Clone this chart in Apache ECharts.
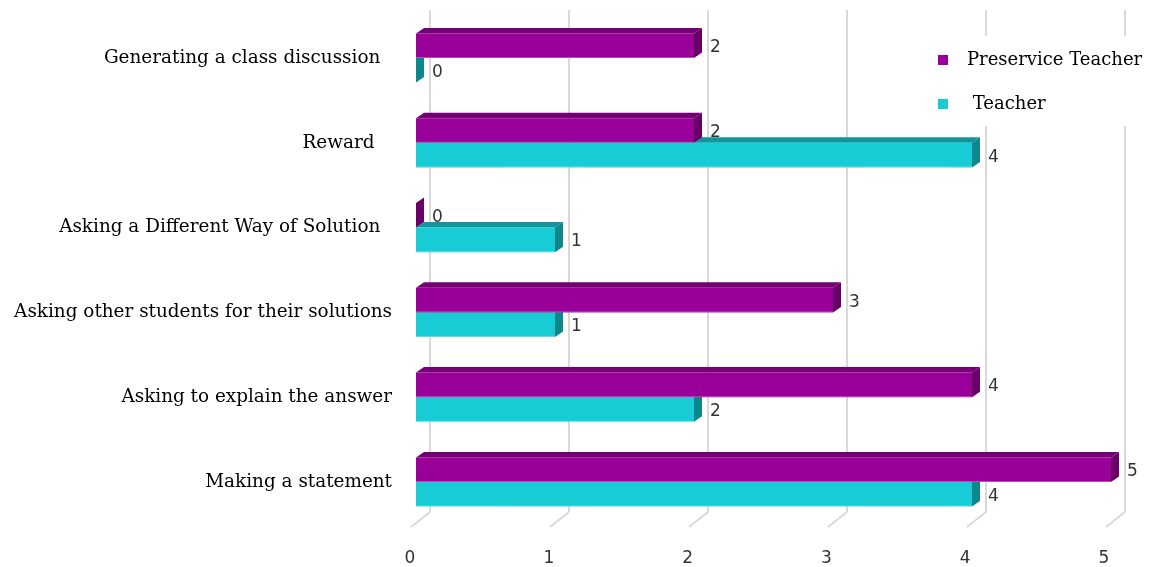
<!DOCTYPE html>
<html>
<head>
<meta charset="utf-8">
<title>Questioning strategies</title>
<script src="https://cdn.jsdelivr.net/npm/echarts@6/dist/echarts.min.js"></script>
<style>
  html, body { margin: 0; padding: 0; background: #fff; }
  #chart { width: 1150px; height: 567px; }
</style>
</head>
<body>
<div id="chart"></div>
<script>
// Categories, listed top to bottom
const categories = [
  'Generating a class discussion  ',
  'Reward   ',
  'Asking a Different Way of Solution  ',
  'Asking other students for their solutions',
  'Asking to explain the answer',
  'Making a statement'
];
const preserviceTeacher = [2, 2, 0, 3, 4, 5];
const teacher = [0, 4, 1, 1, 2, 4];
const axisTicks = [0, 1, 2, 3, 4, 5];

// Face colours of the extruded bars: front, top, side
const palette = {
  'Preservice Teacher': { front: '#990099', top: '#740074', side: '#680068' },
  'Teacher': { front: '#17ccd4', top: '#11959a', side: '#0d878c' }
};

const DX = 8;    // extrusion depth, horizontal
const DY = 5.5;  // extrusion depth, vertical
const GRID_COLOR = '#d9d9d9';

function barRenderer(colors, upper) {
  return function (params, api) {
    const v = api.value(0);
    const c = api.value(1);
    const start = api.coord([0, c]);
    const end = api.coord([v, c]);
    const band = api.size([0, 1])[1];
    const h = band * 0.29;
    const y0 = upper ? start[1] - h : start[1];
    const x0 = start[0];
    const x1 = end[0];
    const children = [
      {
        type: 'polygon',
        shape: { points: [[x0, y0], [x0 + DX, y0 - DY], [x1 + DX, y0 - DY], [x1, y0]] },
        style: { fill: colors.top }
      },
      {
        type: 'polygon',
        shape: { points: [[x1, y0], [x1 + DX, y0 - DY], [x1 + DX, y0 + h - DY], [x1, y0 + h]] },
        style: { fill: colors.side }
      },
      {
        type: 'rect',
        shape: { x: x0, y: y0, width: x1 - x0, height: h },
        style: { fill: colors.front }
      },
      {
        // soft light edge along the bottom of the front face
        type: 'line',
        shape: { x1: x0, y1: y0 + h - 0.5, x2: x1, y2: y0 + h - 0.5 },
        style: { stroke: 'rgba(255,255,255,0.3)', lineWidth: 1 }
      },
      {
        type: 'text',
        x: x1 + 16,
        y: y0 + h / 2 + 2,
        style: {
          text: String(v),
          fill: '#333',
          font: '17px "DejaVu Sans"',
          verticalAlign: 'middle',
          align: 'left'
        }
      }
    ];
    return { type: 'group', children: children };
  };
}

// Floor lines running from the back wall towards the viewer
function floorRenderer(params, api) {
  const p = api.coord([api.value(0), 0]);
  return {
    type: 'line',
    shape: { x1: p[0], y1: p[1], x2: p[0] - 19, y2: p[1] + 15 },
    style: { stroke: GRID_COLOR, lineWidth: 2 }
  };
}

const chart = echarts.init(document.getElementById('chart'), null, { renderer: 'canvas' });

chart.setOption({
  animation: false,
  backgroundColor: '#fff',
  legend: {
    orient: 'vertical',
    left: 930,
    top: 36,
    padding: [14, 10, 12, 8],
    backgroundColor: '#fff',
    itemWidth: 10,
    itemHeight: 10,
    itemGap: 24,
    icon: 'rect',
    data: ['Preservice Teacher', 'Teacher'],
    formatter: function (name) { return name === 'Teacher' ? ' ' + name : name; },
    textStyle: {
      fontFamily: 'DejaVu Serif',
      fontSize: 18,
      color: '#000',
      lineHeight: 20,
      padding: [0, 0, 0, 14]
    }
  },
  grid: [
    // front plane: bars
    { left: 416, width: 695, top: 15.6, height: 508.8 },
    // back wall: gridlines
    { left: 430, width: 695, top: 10, height: 502 },
    // floor edge: tick labels
    { left: 410, width: 694, top: 10, height: 520 }
  ],
  xAxis: [
    { gridIndex: 0, type: 'value', min: 0, max: 5, interval: 1, show: false },
    {
      gridIndex: 1, type: 'value', min: 0, max: 5, interval: 1,
      axisLine: { show: false }, axisTick: { show: false }, axisLabel: { show: false },
      splitLine: { show: true, lineStyle: { color: GRID_COLOR, width: 2, type: 'solid' } }
    },
    {
      gridIndex: 2, type: 'value', min: 0, max: 5, interval: 1,
      axisLine: { show: false }, axisTick: { show: false }, splitLine: { show: false },
      axisLabel: {
        margin: 20,
        fontFamily: 'DejaVu Sans',
        fontSize: 17,
        color: '#333'
      }
    }
  ],
  yAxis: [
    {
      gridIndex: 0, type: 'category', inverse: true, data: categories,
      axisLine: { show: false }, axisTick: { show: false }, splitLine: { show: false },
      axisLabel: {
        margin: 24,
        fontFamily: 'DejaVu Serif',
        fontSize: 18.4,
        color: '#000',
        padding: [10, 0, 0, 0]
      }
    },
    { gridIndex: 1, type: 'value', min: 0, max: 1, show: false },
    { gridIndex: 2, type: 'value', min: 0, max: 1, show: false }
  ],
  series: [
    {
      name: 'Floor',
      type: 'custom',
      xAxisIndex: 1,
      yAxisIndex: 1,
      silent: true,
      z: 1,
      renderItem: floorRenderer,
      data: axisTicks.map(function (t) { return [t, 0]; })
    },
    {
      name: 'Teacher',
      type: 'custom',
      xAxisIndex: 0,
      yAxisIndex: 0,
      z: 2,
      itemStyle: { color: palette['Teacher'].front },
      renderItem: barRenderer(palette['Teacher'], false),
      encode: { x: 0, y: 1 },
      data: teacher.map(function (v, i) { return [v, i]; })
    },
    {
      name: 'Preservice Teacher',
      type: 'custom',
      xAxisIndex: 0,
      yAxisIndex: 0,
      z: 3,
      itemStyle: { color: palette['Preservice Teacher'].front },
      renderItem: barRenderer(palette['Preservice Teacher'], true),
      encode: { x: 0, y: 1 },
      data: preserviceTeacher.map(function (v, i) { return [v, i]; })
    }
  ]
});
</script>
</body>
</html>
